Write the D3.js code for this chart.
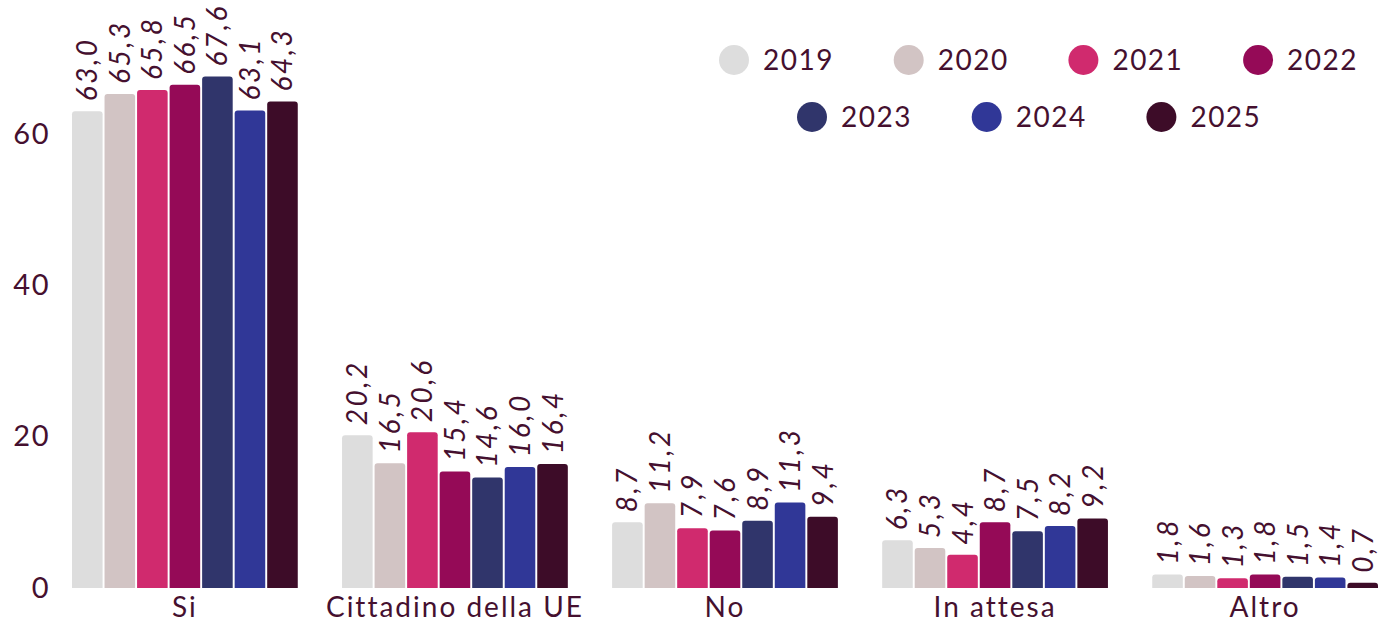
<!DOCTYPE html>
<html><head><meta charset="utf-8">
<script src="https://cdn.jsdelivr.net/npm/d3@7"></script>
<style>
body{margin:0;background:#fff;}
svg text{font-family:"Lato","Noto Sans",sans-serif;fill:#45102f;}
</style></head>
<body><svg id="c" width="1378" height="626"></svg>
<script>
const categories = ["Si", "Cittadino della UE", "No", "In attesa", "Altro"];
const years = ["2019", "2020", "2021", "2022", "2023", "2024", "2025"];
const values2019 = [63.0, 20.2, 8.7, 6.3, 1.8];
const values2020 = [65.3, 16.5, 11.2, 5.3, 1.6];
const values2021 = [65.8, 20.6, 7.9, 4.4, 1.3];
const values2022 = [66.5, 15.4, 7.6, 8.7, 1.8];
const values2023 = [67.6, 14.6, 8.9, 7.5, 1.5];
const values2024 = [63.1, 16.0, 11.3, 8.2, 1.4];
const values2025 = [64.3, 16.4, 9.4, 9.2, 0.7];
const yTicks = [0, 20, 40, 60];
const colors = ["#dddddd", "#d2c4c4", "#d02a6e", "#950a57", "#30356b", "#303797", "#3d0c28"];

const series = [values2019, values2020, values2021, values2022, values2023, values2024, values2025];
const svg = d3.select("#c");

const x0 = d3.scaleBand().domain(categories).range([72, 1378]).paddingInner(0.164).paddingOuter(0);
const x1 = d3.scaleBand().domain(years).range([0, x0.bandwidth()]).paddingInner(0.06).paddingOuter(0);
const y = d3.scaleLinear().domain([0, 60]).range([588, 134]);
const color = d3.scaleOrdinal().domain(years).range(colors);

const fmt = v => d3.format(".1f")(v).replace(".", ",");

function barPath(x, yTop, w, h, r) {
  r = Math.min(r, h, w / 2);
  const yb = yTop + h;
  return `M${x},${yb}V${yTop + r}Q${x},${yTop} ${x + r},${yTop}H${x + w - r}Q${x + w},${yTop} ${x + w},${yTop + r}V${yb}Z`;
}

const data = [];
categories.forEach((c, i) => years.forEach((yr, j) => data.push({c, yr, v: series[j][i]})));

const g = svg.append("g");
g.selectAll("path.bar").data(data).join("path")
  .attr("class", "bar")
  .attr("fill", d => color(d.yr))
  .attr("d", d => barPath(x0(d.c) + x1(d.yr), y(d.v), x1.bandwidth(), y(0) - y(d.v), 3));

g.selectAll("text.lbl").data(data).join("text")
  .attr("class", "lbl")
  .attr("transform", d => `translate(${x0(d.c) + x1(d.yr) + x1.bandwidth() / 2 + 10},${y(d.v) - 10}) rotate(-90)`)
  .attr("font-size", 28)
  .attr("font-style", "italic")
  .attr("letter-spacing", 2.5)
  .attr("text-anchor", "start")
  .text(d => fmt(d.v));

// x axis labels
const xAxis = d3.axisBottom(x0).tickSize(0).tickPadding(9);
const xa = svg.append("g").attr("transform", "translate(0,588)").call(xAxis);
xa.select(".domain").remove();
xa.selectAll("text").attr("font-size", 28).attr("letter-spacing", 2).attr("dy", "0.71em")
  .style("font-family", '"Lato","Noto Sans",sans-serif').attr("fill", "#45102f");

// y axis
const yAxis = d3.axisLeft(y).tickValues(yTicks).tickSize(0).tickPadding(0);
const ya = svg.append("g").attr("transform", "translate(50,0)").call(yAxis);
ya.select(".domain").remove();
ya.selectAll("text").attr("font-size", 29).attr("letter-spacing", 1.5)
  .style("font-family", '"Lato","Noto Sans",sans-serif').attr("fill", "#45102f");

// legend
const legendRows = [years.slice(0, 4), years.slice(4)];
const spacing = 174.7;
legendRows.forEach((row, ri) => {
  const startX = ri === 0 ? 734 : 812;
  const cy = ri === 0 ? 60 : 117;
  row.forEach((yr, k) => {
    const cx = startX + k * spacing;
    svg.append("circle").attr("cx", cx).attr("cy", cy).attr("r", 15).attr("fill", color(yr));
    svg.append("text").attr("x", cx + 29).attr("y", cy).attr("dy", "0.36em")
      .attr("font-size", 28).attr("letter-spacing", 1.5).text(yr);
  });
});
</script>
</body></html>
